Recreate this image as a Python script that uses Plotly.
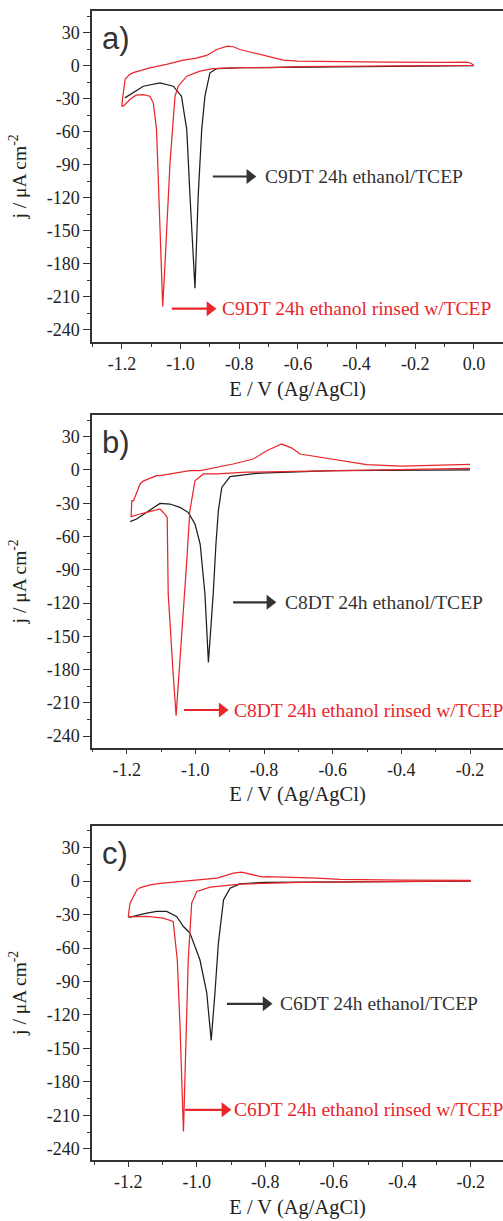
import plotly.graph_objects as go

# ---------------- data ----------------
# Panel a: C9DT
a_black_E = [0.0, -0.2, -0.4, -0.6, -0.786, -0.877, -0.9, -0.917, -0.928, -0.94, -0.951,
             -0.968, -0.979, -0.997, -1.025, -1.07, -1.127, -1.19]
a_black_j = [0.3, -0.2, -0.5, -1.0, -1.6, -2.5, -6.2, -27.5, -57.8, -118, -202,
             -118, -57.8, -27.5, -18.4, -15.3, -18.4, -29]
a_red_E = [-0.002, -0.2, -0.4, -0.6, -0.695, -0.8, -0.889, -0.934, -0.979, -1.008, -1.019,
           -1.036, -1.053, -1.061, -1.07, -1.082, -1.093, -1.105, -1.127, -1.152, -1.173, -1.195, -1.2,
           -1.198, -1.189, -1.175, -1.161, -1.13, -1.105, -1.048, -1.02, -0.991, -0.95, -0.911,
           -0.877, -0.84, -0.82, -0.798, -0.76, -0.729, -0.69, -0.65, -0.6, -0.48, -0.3, -0.1,
           -0.025, -0.01, 0.0]
a_red_j = [0.5, 0.0, -0.3, -0.6, -1.6, -1.4, -2.5, -4.7, -9.3, -18.4, -27.5,
           -88, -179, -218.6, -149, -57.8, -33.5, -27.5, -26, -26.6, -30.5, -36.6, -36.6,
           -30, -12, -8, -6, -3.5, -1.7, 1.4, 3.5, 5.3, 7.0, 9.6,
           15, 18, 17.5, 15, 12.5, 10.5, 7.5, 5.3, 4.5, 4.0, 3.5, 3.3,
           3.5, 2.5, 0.5]

# Panel b: C8DT
b_black_E = [-0.2, -0.4, -0.598, -0.792, -0.821, -0.899, -0.923, -0.933, -0.94, -0.948, -0.962,
             -0.972, -0.986, -1.001, -1.021, -1.045, -1.074, -1.103, -1.152, -1.171, -1.19]
b_black_j = [0.0, -0.3, -0.6, -2.6, -3.0, -6.0, -15.7, -36.7, -66.8, -112, -173.5,
             -112, -66.8, -48.7, -38.2, -33.7, -30.7, -30.1, -39.7, -44.2, -46.6]
b_red_E = [-0.2, -0.3, -0.5, -0.695, -0.85, -0.938, -0.977, -1.001, -1.016, -1.025, -1.045,
           -1.056, -1.064, -1.079, -1.082, -1.088, -1.103, -1.122, -1.142, -1.161, -1.187,
           -1.187, -1.185, -1.18, -1.161, -1.152, -1.113, -1.103, -1.016, -0.986, -0.938, -0.89,
           -0.831, -0.792, -0.749, -0.72, -0.695, -0.637, -0.55, -0.501, -0.4, -0.307, -0.25, -0.2]
b_red_j = [1.5, 1.0, 0.0, -1.2, -2.0, -3.6, -3.6, -9.7, -36.7, -81.8, -172,
           -221.6, -187, -112, -42.7, -40, -35.2, -37, -38.2, -39.7, -42,
           -41, -27.7, -27.7, -12.6, -10, -5.1, -5.1, -0.6, -0.6, 2.4, 5.4,
           9.9, 17.4, 23.4, 20, 14.4, 11.4, 7, 4.8, 3.6, 4.5, 4.5, 5.0]

# Panel c: C6DT
c_black_E = [-0.2, -0.4, -0.6, -0.8, -0.874, -0.903, -0.922, -0.937, -0.947, -0.958,
             -0.971, -0.991, -1.02, -1.039, -1.059, -1.088, -1.117, -1.146, -1.195, -1.2]
c_black_j = [0.0, -0.3, -0.5, -1.0, -2.4, -6.3, -16.8, -55.6, -100, -142.8,
             -100, -70.5, -46.6, -40.7, -31.7, -27.2, -27.2, -28.7, -32.3, -32]
c_red_E = [-0.2, -0.4, -0.698, -0.874, -0.961, -1.0, -1.015, -1.025, -1.034, -1.039,
           -1.049, -1.057, -1.069, -1.098, -1.146, -1.195, -1.2,
           -1.195, -1.175, -1.166, -1.137, -1.107, -1.02, -0.99, -0.941, -0.893, -0.869,
           -0.806, -0.796, -0.65, -0.58, -0.4, -0.2]
c_red_j = [0.2, -0.2, -1.2, -2.6, -5.4, -9.3, -19.7, -70.5, -160, -224.4,
           -130, -70.5, -36.2, -33.2, -31.6, -32, -31.1,
           -19.7, -7.8, -6.0, -3.3, -2.0, 0.5, 1.2, 2.7, 7.1, 8.1,
           3.5, 4.0, 2.7, 1.5, 1.0, 0.6]

series_black_labels = ["C9DT 24h ethanol/TCEP", "C8DT 24h ethanol/TCEP", "C6DT 24h ethanol/TCEP"]
series_red_labels = ["C9DT 24h ethanol rinsed w/TCEP", "C8DT 24h ethanol rinsed w/TCEP",
                     "C6DT 24h ethanol rinsed w/TCEP"]
panel_labels = ["a)", "b)", "c)"]

y_tickvals = [30, 0, -30, -60, -90, -120, -150, -180, -210, -240]
y_ticktext = ["30", "0", "-30", "-60", "-90", "-120", "-150", "-180", "-210", "-240"]
xa_tickvals = [-1.2, -1.0, -0.8, -0.6, -0.4, -0.2, 0.0]
xa_ticktext = ["-1.2", "-1.0", "-0.8", "-0.6", "-0.4", "-0.2", "0.0"]
xbc_tickvals = [-1.2, -1.0, -0.8, -0.6, -0.4, -0.2]
xbc_ticktext = ["-1.2", "-1.0", "-0.8", "-0.6", "-0.4", "-0.2"]

# ---------------- figure ----------------
W, H = 503, 1221
RED = "#e8262b"
BLACK = "#1e1e1e"
TEXTGRAY = "#333333"
AXC = "#333333"
SERIF = "Liberation Serif, Times New Roman, serif"
SANS = "Liberation Sans, Arial, sans-serif"

panels = [
    dict(bE=a_black_E, bj=a_black_j, rE=a_red_E, rj=a_red_j,
         xr=[-1.302, 0.099], yr=[-251, 50], top=11, bot=342,
         xt=(xa_tickvals, xa_ticktext),
         barrow=(-0.890, -0.764, -100.5, -0.719), rarrow=(-1.030, -0.900, -220.7, -0.866)),
    dict(bE=b_black_E, bj=b_black_j, rE=b_red_E, rj=b_red_j,
         xr=[-1.301, -0.104], yr=[-250.5, 49.6], top=415, bot=747.7,
         xt=(xbc_tickvals, xbc_ticktext),
         barrow=(-0.890, -0.783, -119.4, -0.745), rarrow=(-1.033, -0.922, -216.5, -0.893)),
    dict(bE=c_black_E, bj=c_black_j, rE=c_red_E, rj=c_red_j,
         xr=[-1.306, -0.106], yr=[-250, 49.7], top=825.7, bot=1160,
         xt=(xbc_tickvals, xbc_ticktext),
         barrow=(-0.912, -0.798, -110.0, -0.763), rarrow=(-1.034, -0.918, -205.0, -0.897)),
]

fig = go.Figure()
annotations = []
layout_axes = {}
for i, p in enumerate(panels):
    n = "" if i == 0 else str(i + 1)
    xa, ya = "x" + n, "y" + n
    fig.add_trace(go.Scatter(x=p["bE"], y=p["bj"], mode="lines", xaxis=xa, yaxis=ya,
                             line=dict(color=BLACK, width=1.25), name=series_black_labels[i],
                             showlegend=False))
    fig.add_trace(go.Scatter(x=p["rE"], y=p["rj"], mode="lines", xaxis=xa, yaxis=ya,
                             line=dict(color=RED, width=1.25), name=series_red_labels[i],
                             showlegend=False))
    dom = [1 - p["bot"] / H, 1 - p["top"] / H]
    layout_axes["xaxis" + n] = dict(
        domain=[92 / W, 1], range=p["xr"], anchor=ya,
        tickvals=p["xt"][0], ticktext=p["xt"][1],
        ticks="outside", ticklen=5, tickwidth=1.3, tickcolor=AXC,
        minor=dict(dtick=0.1, tick0=0, ticks="outside", ticklen=3, tickwidth=1.1, tickcolor=AXC),
        showline=True, linecolor=AXC, linewidth=1.5, mirror=True,
        showgrid=False, zeroline=False,
        tickfont=dict(family=SERIF, size=18, color="#222222"),
        title=dict(text="E / V (Ag/AgCl)", font=dict(family=SERIF, size=20.5, color="#222222"),
                   standoff=8),
    )
    layout_axes["yaxis" + n] = dict(
        domain=dom, range=p["yr"], anchor=xa,
        tickvals=y_tickvals, ticktext=y_ticktext,
        ticks="outside", ticklen=7, tickwidth=1.3, tickcolor=AXC,
        minor=dict(dtick=15, tick0=0, ticks="outside", ticklen=3.5, tickwidth=1.1, tickcolor=AXC),
        showline=True, linecolor=AXC, linewidth=1.5, mirror=False,
        showgrid=False, zeroline=False,
        tickfont=dict(family=SERIF, size=18, color="#222222"),
        title=dict(text="j / μA cm<sup>-2</sup>", font=dict(family=SERIF, size=19.5, color="#222222"),
                   standoff=15),
    )
    # arrows (line + head) and labels
    for (t0, t1, yy, tx), col, lab in [(p["barrow"], "#333333", series_black_labels[i]),
                                       (p["rarrow"], RED, series_red_labels[i])]:
        fig.add_trace(go.Scatter(x=[t0, t1], y=[yy, yy], mode="lines", xaxis=xa, yaxis=ya,
                                 line=dict(color=col, width=2.2), showlegend=False,
                                 hoverinfo="skip"))
        fig.add_trace(go.Scatter(x=[t1], y=[yy], mode="markers", xaxis=xa, yaxis=ya,
                                 marker=dict(symbol="triangle-right", size=13, color=col,
                                             line=dict(width=0)),
                                 showlegend=False, hoverinfo="skip"))
        annotations.append(dict(x=tx, y=yy, xref=xa, yref=ya, text=lab, showarrow=False,
                                xanchor="left", yanchor="middle",
                                font=dict(family=SERIF, size=19.5, color=col)))
    annotations.append(dict(x=100 / W, y=1 - (p["top"] + 28) / H, xref="paper", yref="paper",
                            text=panel_labels[i], showarrow=False, xanchor="left", yanchor="middle",
                            font=dict(family=SANS, size=31, color=TEXTGRAY)))

fig.update_layout(width=W, height=H, margin=dict(l=0, r=0, t=0, b=0),
                  paper_bgcolor="white", plot_bgcolor="white",
                  annotations=annotations, showlegend=False, **layout_axes)
fig.write_html("out.html", config={"displayModeBar": False},
               post_script="document.body.style.margin='0';document.body.style.overflow='hidden';")
